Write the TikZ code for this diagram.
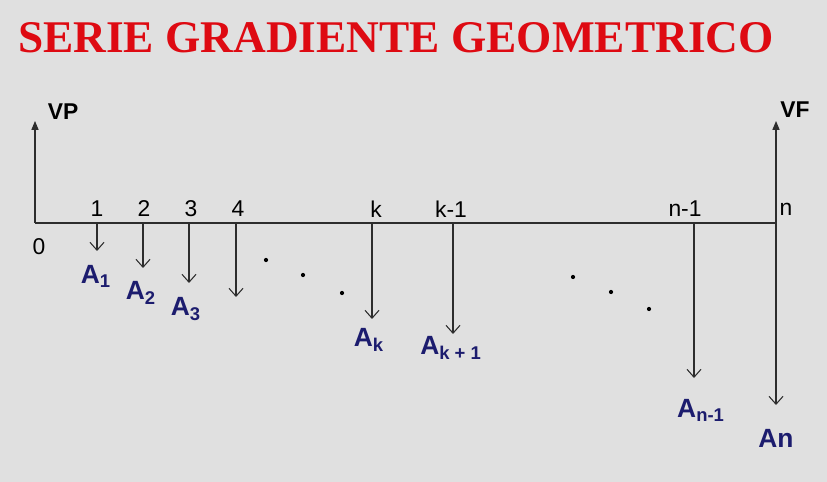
\documentclass[tikz,border=0pt]{standalone}
\usepackage{fontspec}
\setmainfont{Liberation Serif}
\newfontfamily\arialfont{Liberation Sans}
\usepackage{xcolor}
\usetikzlibrary{arrows.meta}

\definecolor{fondo}{RGB}{224,224,224}
\definecolor{titulo}{RGB}{222,10,18}
\definecolor{azul}{RGB}{28,28,110}
\definecolor{linea}{RGB}{45,45,45}

\tikzset{
  eje/.style={draw=linea, line width=0.6pt},
  subida/.style={eje, -{Triangle[length=5pt,width=4pt]}},
  bajada/.style={eje, -{Straight Barb[length=4.5pt,width=8pt]}},
  marca/.style={font=\arialfont\fontsize{13}{13}\selectfont, text=black, inner sep=0pt},
  valor/.style={font=\arialfont\bfseries\fontsize{13}{13}\selectfont, text=black, inner sep=0pt},
  pago/.style={font=\arialfont\bfseries\fontsize{15}{15}\selectfont, text=azul, inner sep=0pt},
  punto/.style={fill=black, circle, inner sep=0pt, minimum size=2.4pt}
}

\begin{document}
\begin{tikzpicture}[x=0.02cm, y=-0.02cm]
        % Fondo
        \fill[fondo] (0,0) rectangle (827,482);
        \useasboundingbox (0,0) rectangle (827,482);

        % Titulo
        \node[font=\bfseries\fontsize{25.8}{26}\selectfont, text=titulo, inner sep=0pt] (titulo) at (396,38) {SERIE GRADIENTE GEOMETRICO};

        % Linea de tiempo
        \coordinate (t0) at (35,223);
        \coordinate (tn) at (776,223);
        \draw[eje] (t0) -- (tn);

        % VP y VF
        \coordinate (vp) at (35,121);
        \coordinate (vf) at (776,121);
        \draw[subida] (t0) -- (vp);
        \draw[subida] (tn) -- (vf);
        \node[valor] (lvp) at (63,112) {VP};
        \node[valor] (lvf) at (795,110) {VF};

        % Periodos
        \node[marca] (p0) at (39,247) {0};
        \node[marca] (p1) at (97,209) {1};
        \node[marca] (p2) at (144,209) {2};
        \node[marca] (p3) at (191,209) {3};
        \node[marca] (p4) at (238,209) {4};
        \node[marca] (pk) at (376,209) {k};
        \node[marca] (pk1) at (451,209) {k-1};
        \node[marca] (pn1) at (685,209) {n-1};
        \node[marca] (pn) at (786,209) {n};

        % Pagos
        \foreach \nombre/\x/\y in {a1/97/251, a2/143/268, a3/189/283, a4/236/297,
                                   ak/372/319, ak1/453/334, an1/694/378, an/776/405} {
            \coordinate (s\nombre) at (\x,223);
            \coordinate (e\nombre) at (\x,\y);
            \draw[bajada] (s\nombre) -- (e\nombre);
        }

        \node[pago] (la1) at (96,276) {A\textsubscript{1}};
        \node[pago] (la2) at (141,293) {A\textsubscript{2}};
        \node[pago] (la3) at (186,309) {A\textsubscript{3}};
        \node[pago] (lak) at (369,340) {A\textsubscript{k}};
        \node[pago] (lak1) at (451,348) {A\textsubscript{k + 1}};
        \node[pago] (lan1) at (701,410) {A\textsubscript{n-1}};
        \node[pago] (lan) at (776,438) {An};

        % Puntos suspensivos
        \node[punto] (d1) at (266,260) {};
        \node[punto] (d2) at (303,275) {};
        \node[punto] (d3) at (342,293) {};
        \node[punto] (d4) at (573,277) {};
        \node[punto] (d5) at (611,292) {};
        \node[punto] (d6) at (649,309) {};
\end{tikzpicture}
\end{document}
